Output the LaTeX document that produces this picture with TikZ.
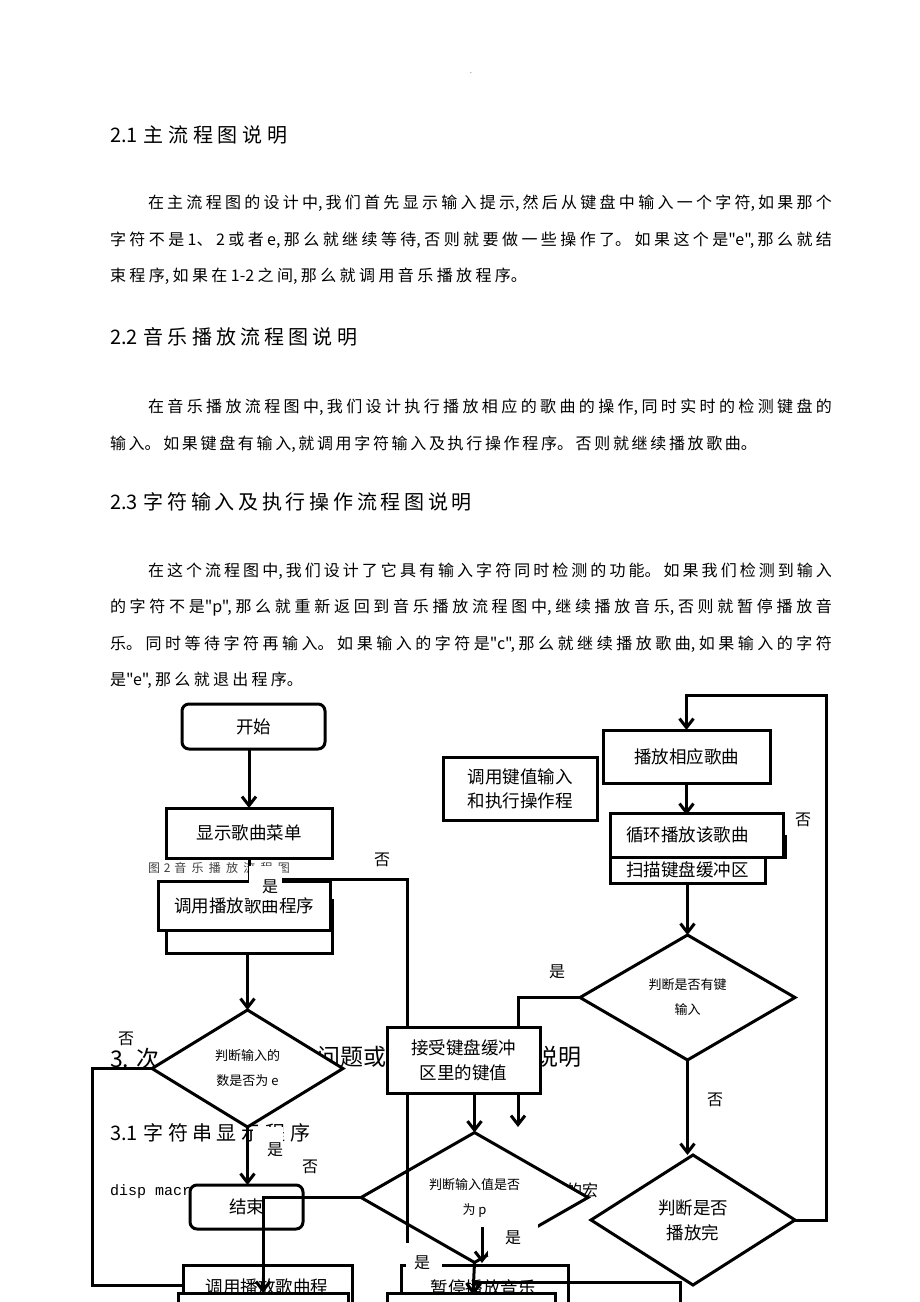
\documentclass[tikz,border=0pt]{standalone}
\usepackage{fontspec}
\setmainfont{Noto Sans CJK SC}[Ligatures=TeXOff]
\newfontfamily\monof{Liberation Mono}[Ligatures=TeXOff]
\usetikzlibrary{arrows.meta,shapes.geometric}
\XeTeXlinebreaklocale "zh"
\XeTeXlinebreakskip=0pt plus 6pt
\newcommand{\jl}[2]{\parbox{#1}{\parfillskip=0pt\parindent=0pt\relax #2}}
\tikzset{
  txt/.style={anchor=west, inner sep=0pt, outer sep=0pt},
  hd/.style={txt, font=\fontsize{20}{24}\selectfont},
  bt/.style={txt, font=\fontsize{16}{20}\selectfont},
  box/.style={draw, line width=3pt, fill=white, inner sep=0pt, outer sep=0pt, align=center, font=\fontsize{17.5}{25}\selectfont},
  rbox/.style={box, rounded corners=7pt},
  dia/.style={diamond, draw, line width=3pt, fill=white, inner sep=0pt, outer sep=0pt, align=center},
  small/.style={font=\fontsize{13}{25}\selectfont},
  conn/.style={line width=3pt},
  arr/.style={conn, -{Straight Barb[length=9pt,width=14pt]}},
  lbl/.style={inner sep=0pt, font=\fontsize{16}{16}\selectfont},
  patch/.style={fill=white, inner sep=0pt, outer sep=0pt}
}
\begin{document}
\begin{tikzpicture}[x=1pt,y=-1pt]
\path[use as bounding box, clip] (0,0) rectangle (920,1302);
\fill[white] (0,0) rectangle (920,1302);

% ---------- page text ----------
\node[inner sep=0pt, font=\fontsize{8}{8}\selectfont, text=gray] (dot) at (471,73) {.};
\node[hd] (h21) at (110,135) {\jl{177pt}{2.1 主流程图说明}};
\node[bt] (p1a) at (148,203) {\jl{684pt}{在主流程图的设计中,我们首先显示输入提示,然后从键盘中输入一个字符,如果那个}};
\node[bt] (p1b) at (110,240) {\jl{722pt}{字符不是1、2或者e,那么就继续等待,否则就要做一些操作了。如果这个是"e",那么就结}};
\node[bt] (p1c) at (110,276) {\jl{417pt}{束程序,如果在1-2之间,那么就调用音乐播放程序。}};
\node[hd] (h22) at (110,337) {\jl{247pt}{2.2 音乐播放流程图说明}};
\node[bt] (p2a) at (148,407) {\jl{684pt}{在音乐播放流程图中,我们设计执行播放相应的歌曲的操作,同时实时的检测键盘的}};
\node[bt] (p2b) at (110,444) {\jl{647pt}{输入。如果键盘有输入,就调用字符输入及执行操作程序。否则就继续播放歌曲。}};
\node[hd] (h23) at (110,502) {\jl{362pt}{2.3 字符输入及执行操作流程图说明}};
\node[bt] (p3a) at (148,571) {\jl{684pt}{在这个流程图中,我们设计了它具有输入字符同时检测的功能。如果我们检测到输入}};
\node[bt] (p3b) at (110,608) {\jl{722pt}{的字符不是"p",那么就重新返回到音乐播放流程图中,继续播放音乐,否则就暂停播放音}};
\node[bt] (p3c) at (110,644) {\jl{722pt}{乐。同时等待字符再输入。如果输入的字符是"c",那么就继续播放歌曲,如果输入的字符}};
\node[bt] (p3d) at (110,680) {\jl{193pt}{是"e",那么就退出程序。}};

\node[txt, font=\fontsize{23}{23}\selectfont] (h3a) at (110,1059) {3. 次};
\node[txt, font=\fontsize{23}{23}\selectfont] (h3b) at (317,1057) {问题或};
\node[txt, font=\fontsize{23}{23}\selectfont] (h3c) at (535,1057) {说明};
\node[hd] (h31) at (110,1133) {\jl{200pt}{3.1 字符串显示程序}};
\node[txt, font=\monof\fontsize{15}{15}\selectfont] (dm) at (110,1192) {disp macr};
\node[txt, font=\fontsize{16}{16}\selectfont] (dh) at (566,1190) {的宏};

% ---------- left flow ----------
\node[rbox, minimum width=143pt, minimum height=45pt] (start) at (253.5,726.5) {开始};
\node[box, minimum width=166pt, minimum height=50pt] (menu) at (249,833) {显示歌曲菜单};
\draw[arr] (menu.north |- start.south) -- (menu.north);
\node[txt, font=\fontsize{12}{12}\selectfont, text=black!75] (cap) at (148,868) {\jl{142pt}{图 2 音乐播放流程图}};
\node[box, minimum width=166pt, minimum height=53pt] (cpb) at (249,926.5) {};
\node[box, minimum width=172pt, minimum height=49pt] (cpf) at (244,905.5) {调用播放歌曲程序};
\draw[conn] (menu.south) -- (menu.south |- cpf.north);
\node[patch, minimum width=33pt, minimum height=34pt] (w1) at (265,883) {};
\node[lbl] (y1) at (270,887) {是};
\coordinate (c1) at (282,879.5);
\coordinate (c2) at (407,1243);
\node[lbl] (n1) at (382,860) {否};

\node[lbl] (n2) at (126,1039) {否};
\node[dia, small, minimum width=191pt, minimum height=117pt] (de) at (247.5,1068.5) {判断输入的\\数是否为 e};
\draw[arr] (de.north |- cpb.south) -- (de.north);
\coordinate (l1) at (92,1068.5);
\coordinate (lA) at (183,1285);
\draw[conn] (de.west) -- (l1) |- (lA);

\node[patch, minimum width=30pt, minimum height=26pt] (w2) at (268,1140) {};
\node[lbl] (y2) at (275,1150) {是};
\node[rbox, minimum width=113pt, minimum height=44pt] (endn) at (246.5,1207) {结束};
\draw[arr] (de.south) -- (de.south |- endn.north);
\node[lbl] (n3) at (310,1167) {否};

\node[box, minimum width=169pt, minimum height=70pt] (ba) at (267.5,1300) {};
\node[inner sep=0pt, font=\fontsize{17.5}{25}\selectfont] (bat) at (267,1287) {调用播放歌曲程};
\node[box, minimum width=170pt, minimum height=74pt] (bb) at (263,1330) {};

% ---------- right flow ----------
\node[box, minimum width=167pt, minimum height=53pt] (play) at (686.5,756.5) {播放相应歌曲};
\node[box, minimum width=154pt, minimum height=63pt, font=\fontsize{17.5}{24}\selectfont] (ck) at (520,788.5) {调用键值输入\\和执行操作程};
\coordinate (lt) at (686.5,815);
\draw[arr] (play.south) -- (lt);
\node[box, minimum width=165pt, minimum height=21pt] (lb) at (702.5,846.5) {};
\node[box, minimum width=155pt, minimum height=26pt] (scan) at (687.5,870) {扫描键盘缓冲区};
\node[box, minimum width=173pt, minimum height=44pt] (loop) at (696.5,835) {\hspace*{-18pt}循环播放该歌曲};
\node[lbl] (n4) at (803,820) {否};

\node[dia, small, minimum width=215pt, minimum height=125pt] (dkey) at (687.5,997.5) {判断是否有键\\输入};
\draw[arr] (scan.south) -- (scan.south |- dkey.north);
\node[lbl] (y3) at (557,972) {是};
\node[dia, minimum width=204pt, minimum height=130pt, font=\fontsize{17.5}{25}\selectfont] (dd) at (693,1220) {判断是否\\播放完};
\draw[arr] (dkey.south) -- (dkey.south |- dd.north);
\node[lbl] (n5) at (715,1100) {否};
\coordinate (r1) at (826,695);
\draw[arr] (dd.east) -| (r1) -| (play.north);

% ---------- middle flow ----------
\node[dia, small, minimum width=227pt, minimum height=121pt] (dp) at (474.5,1197.5) {判断输入值是否\\为 p};
\draw[conn] (c1) -| (c2);
\coordinate (a1) at (518,1127);
\draw[arr] (dkey.west) -| (a1);
\node[box, minimum width=153pt, minimum height=66pt] (acc) at (463.5,1060) {接受键盘缓冲\\区里的键值};
\draw[arr] (dp.north |- acc.south) -- (dp.north);

\node[draw, line width=3pt, inner sep=0pt, minimum width=167pt, minimum height=70pt] (d1) at (484.5,1300) {};
\node[draw, line width=3pt, inner sep=0pt, minimum width=207pt, minimum height=70pt] (d2) at (576.5,1317) {};
\node[inner sep=0pt, font=\fontsize{17.5}{25}\selectfont] (pt) at (483,1288) {暂停播放音乐};
\coordinate (p1) at (482,1227);
\coordinate (p2) at (482,1263);
\draw[arr] (p1) -- (p2);
\coordinate (p3) at (473,1295);
\draw[arr] (dp.south) -- (p3);
\node[patch, minimum width=50pt, minimum height=32pt] (w3) at (513,1240) {};
\node[lbl] (y4) at (513,1238) {是};
\node[box, minimum width=168pt, minimum height=74pt] (bc) at (471,1330) {};
\node[patch, minimum width=36pt, minimum height=30pt] (w4) at (424,1262) {};
\node[lbl] (y5) at (422,1263) {是};

\coordinate (b1) at (263,1293);
\draw[arr] (dp.west) -| (b1);
\end{tikzpicture}
\end{document}
